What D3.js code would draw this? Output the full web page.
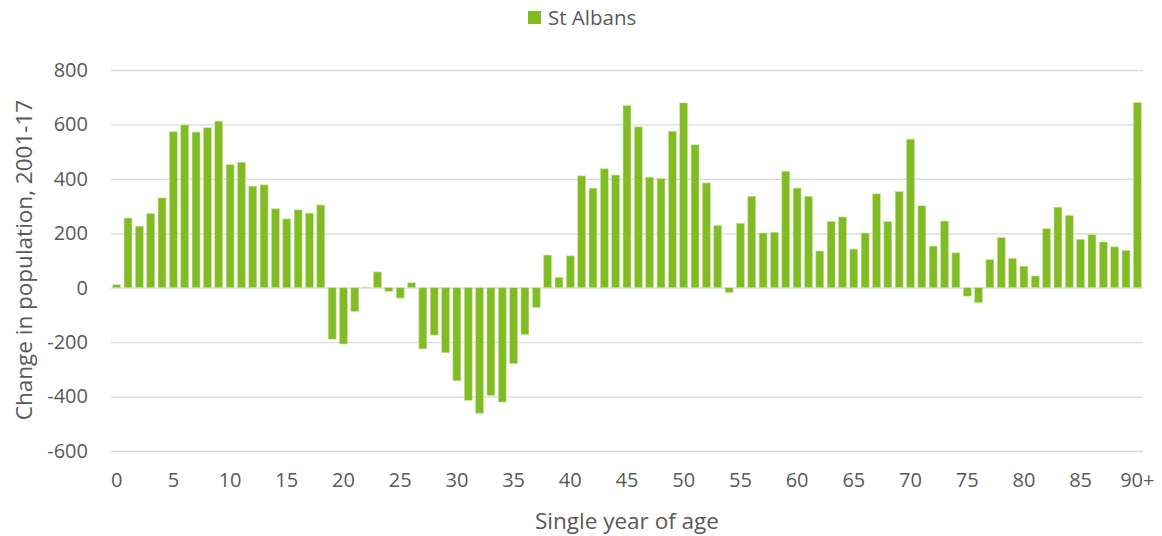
<!DOCTYPE html>
<html>
<head>
<meta charset="utf-8">
<script src="https://cdn.jsdelivr.net/npm/d3@7"></script>
<style>
  body { margin: 0; background: #fff; }
  text { font-family: "Open Sans", sans-serif; fill: #595959; }
</style>
</head>
<body>
<div id="chart"></div>
<script>
// Age categories 0..89 then 90+
var ages = d3.range(0, 90).map(String).concat(["90+"]);

// Change in population 2001-17, St Albans
var changeValues = [
    11, 256, 226, 272, 330, 573, 598, 572, 588, 612,
    452, 461, 373, 378, 290, 253, 286, 274, 304, -189,
    -207, -87, 2, 58, -13, -38, 18, -225, -174, -239,
    -342, -414, -461, -396, -420, -279, -172, -72, 120, 38,
    117, 411, 366, 437, 414, 669, 591, 406, 401, 575,
    679, 525, 385, 229, -18, 237, 336, 201, 204, 428,
    366, 336, 135, 243, 260, 142, 201, 345, 243, 353,
    546, 301, 153, 245, 128, -31, -55, 103, 184, 108,
    79, 43, 217, 296, 266, 178, 195, 168, 150, 137,
    680
];

var yTicks = [-600, -400, -200, 0, 200, 400, 600, 800];
var xTickLabels = ["0", "5", "10", "15", "20", "25", "30", "35", "40", "45", "50", "55", "60", "65", "70", "75", "80", "85", "90+"];

var seriesName = "St Albans";
var barColor = "#82bc24";

var width = 1162, height = 536;
var margin = { top: 70, right: 19, bottom: 86, left: 111 };
var innerWidth = width - margin.left - margin.right;
var innerHeight = height - margin.top - margin.bottom;

var svg = d3.select("#chart").append("svg")
    .attr("width", width)
    .attr("height", height);

var g = svg.append("g")
    .attr("transform", `translate(${margin.left}, ${margin.top})`);

var x = d3.scaleBand()
    .domain(ages)
    .range([0, innerWidth])
    .paddingInner(0.3)
    .paddingOuter(0.15);

var y = d3.scaleLinear()
    .domain([-600, 800])
    .range([innerHeight + 1, 0]);

// Gridlines and y labels
var yAxis = g.append("g")
    .call(d3.axisLeft(y).tickValues(yTicks).tickSize(-innerWidth).tickPadding(23)
        .tickFormat(d3.format("d")))
    .attr("font-size", 20)
    .attr("font-family", "Open Sans, sans-serif");
yAxis.select(".domain").remove();
yAxis.selectAll("line").attr("stroke", "#d9d9d9").attr("stroke-width", 1.3);
yAxis.selectAll("text")
    .attr("fill", "#595959")
    .text(d => d < 0 ? "-" + Math.abs(d) : d);

// Bars
g.selectAll(".bar")
    .data(changeValues)
    .enter().append("rect")
    .attr("class", "bar")
    .attr("x", (d, i) => x(ages[i]))
    .attr("width", x.bandwidth())
    .attr("y", d => y(Math.max(0, d)))
    .attr("height", d => Math.abs(y(d) - y(0)))
    .attr("fill", barColor)
    .attr("stroke", "#c9e4a0")
    .attr("stroke-width", 0.6);

// X axis labels (every fifth age)
var xAxis = g.append("g")
    .attr("transform", `translate(0, ${innerHeight})`)
    .call(d3.axisBottom(x)
        .tickValues(ages.filter(a => xTickLabels.indexOf(a) >= 0))
        .tickSize(0)
        .tickPadding(23))
    .attr("font-size", 20)
    .attr("font-family", "Open Sans, sans-serif");
xAxis.select(".domain").remove();
xAxis.selectAll("text").attr("fill", "#595959");

// Axis titles
svg.append("text")
    .attr("x", margin.left + innerWidth / 2)
    .attr("y", 529)
    .attr("text-anchor", "middle")
    .style("font-size", "22.5px")
    .text("Single year of age");

svg.append("text")
    .attr("transform", "rotate(-90)")
    .attr("x", -260)
    .attr("y", 32)
    .attr("text-anchor", "middle")
    .style("font-size", "22.5px")
    .text("Change in population, 2001-17");

// Legend
var legend = svg.append("g").attr("transform", "translate(528, 11)");
legend.append("rect")
    .attr("width", 13).attr("height", 13)
    .attr("fill", barColor);
legend.append("text")
    .attr("x", 20).attr("y", 14)
    .style("font-size", "20.5px")
    .text(seriesName);
</script>
</body>
</html>
